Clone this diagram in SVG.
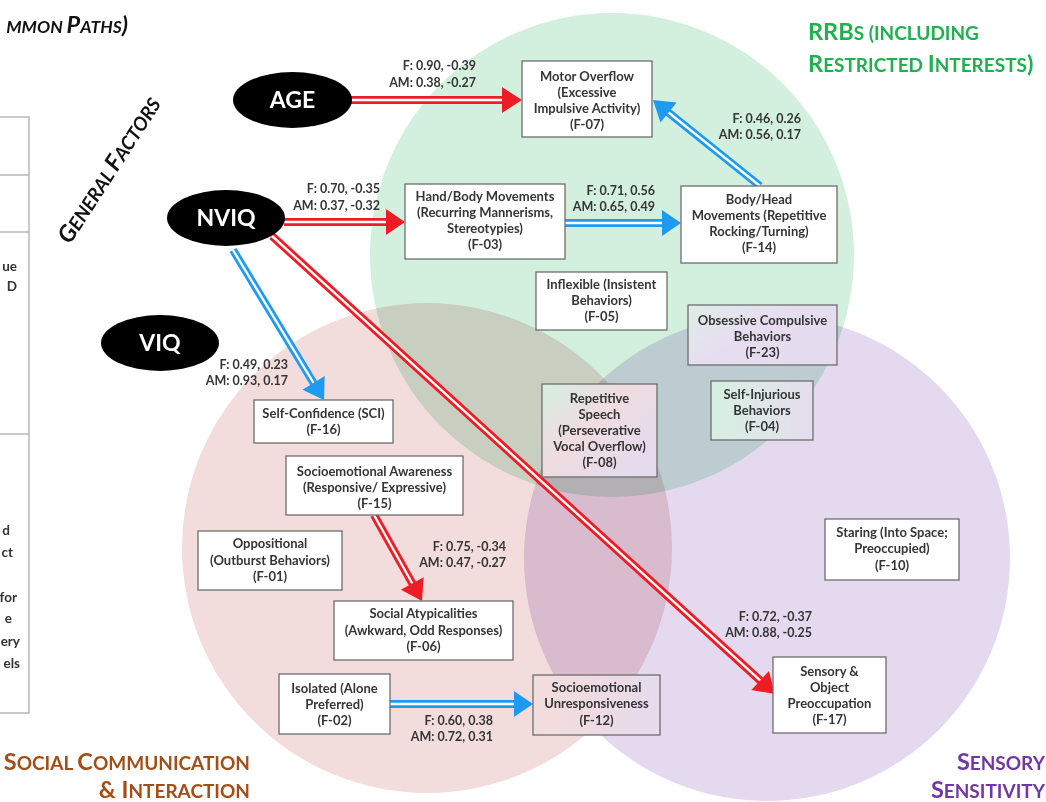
<svg xmlns="http://www.w3.org/2000/svg" width="1046" height="802" viewBox="0 0 1046 802">
<style>
.bg{fill:#ffffff}
.venn{mix-blend-mode:multiply}
.box{stroke:#6e6e6e;stroke-width:1.3}
.bt{font-family:Lato,"Liberation Sans",sans-serif;font-weight:bold;font-size:13px;fill:#353535;text-anchor:middle}
.lab{font-family:Lato,"Liberation Sans",sans-serif;font-weight:bold;font-size:12.5px;fill:#353535;text-anchor:end}
.ell{fill:#000000}
.et{font-family:Lato,"Liberation Sans",sans-serif;font-weight:bold;font-size:23px;fill:#ffffff;text-anchor:middle}
.red{stroke:#ee1c24;stroke-width:8;fill:none}
.blue{stroke:#1e9bf0;stroke-width:8;fill:none}
.gap{stroke:#ffffff;stroke-width:2.4;fill:none}
.rh{fill:#ee1c24}
.bh{fill:#1e9bf0}
.head{font-family:Lato,"Liberation Sans",sans-serif;font-weight:bold;font-size:23.5px}
.sc{font-size:19px}
.tbl{stroke:#b8b8b8;stroke-width:1.5;fill:none}
.tt{font-family:Lato,"Liberation Sans",sans-serif;font-weight:bold;font-size:13.5px;fill:#333333;text-anchor:end}
</style>
<defs>
<linearGradient id="gOC" x1="0" y1="0" x2="1" y2="0.6">
<stop offset="0" stop-color="#dfede6"/><stop offset="0.5" stop-color="#e6def0"/><stop offset="1" stop-color="#e4dbee"/>
</linearGradient>
<linearGradient id="gSI" x1="0" y1="0" x2="1" y2="0">
<stop offset="0" stop-color="#d8efe2"/><stop offset="0.6" stop-color="#dfe6e8"/><stop offset="1" stop-color="#e5dcee"/>
</linearGradient>
<linearGradient id="gRS" x1="0" y1="0" x2="1" y2="0.8">
<stop offset="0" stop-color="#d6efe1"/><stop offset="0.45" stop-color="#efdcde"/><stop offset="1" stop-color="#e4dbef"/>
</linearGradient>
<linearGradient id="gSU" x1="0" y1="0" x2="1" y2="0">
<stop offset="0" stop-color="#f3dddd"/><stop offset="0.5" stop-color="#eedbe2"/><stop offset="1" stop-color="#e5dbee"/>
</linearGradient>
</defs>
<rect class="bg" x="0" y="0" width="1046" height="802"/>

<g id="venn">
<circle class="venn" cx="612" cy="255" r="242" fill="#d3f0df"/>
<circle class="venn" cx="427" cy="548" r="245" fill="#f2dcdc"/>
<circle class="venn" cx="767" cy="558" r="243" fill="#e4d9ee"/>
</g>

<g id="titles">
<text class="head" x="128" y="33" text-anchor="end" font-style="italic" fill="#111111" font-size="22px"><tspan font-size="17.5px">MMON </tspan>P<tspan font-size="17.5px">ATHS</tspan>)</text>
<text class="head" transform="translate(70,245) rotate(-57)" font-style="italic" fill="#111111">G<tspan class="sc">ENERAL </tspan>F<tspan class="sc">ACTORS</tspan></text>
<text class="head" x="808" y="40" fill="#1fb04f">RRB<tspan class="sc">S (INCLUDING</tspan></text>
<text class="head" x="808" y="72" fill="#1fb04f">R<tspan class="sc">ESTRICTED </tspan>I<tspan class="sc">NTERESTS</tspan>)</text>
<text class="head" x="250" y="770" text-anchor="end" fill="#a34e17">S<tspan class="sc">OCIAL </tspan>C<tspan class="sc">OMMUNICATION</tspan></text>
<text class="head" x="250" y="798" text-anchor="end" fill="#a34e17">&amp; I<tspan class="sc">NTERACTION</tspan></text>
<text class="head" x="1045" y="770" text-anchor="end" fill="#7236a6">S<tspan class="sc">ENSORY</tspan></text>
<text class="head" x="1045" y="798" text-anchor="end" fill="#7236a6">S<tspan class="sc">ENSITIVITY</tspan></text>
</g>

<g id="table">
<path class="tbl" d="M0 117 H29 V713 H0 M0 175 H29 M0 232 H29 M0 434 H29"/>
<text class="tt" x="17" y="271">ue</text>
<text class="tt" x="17" y="291">D</text>
<text class="tt" x="10" y="535">d</text>
<text class="tt" x="13" y="557">ct</text>
<text class="tt" x="17" y="602">for</text>
<text class="tt" x="12" y="623">e</text>
<text class="tt" x="20" y="646">ery</text>
<text class="tt" x="20" y="668">els</text>
</g>

<g id="connectors">
<path class="red" d="M350 100 L504 100"/><path class="gap" d="M350 100 L504 100"/>
<polygon class="rh" points="502,87 522,100 502,113"/>
<text class="lab" x="476" y="70">F: 0.90, -0.39</text>
<text class="lab" x="476" y="87">AM: 0.38, -0.27</text>

<path class="red" d="M284 222 L388 222"/><path class="gap" d="M284 222 L388 222"/>
<polygon class="rh" points="386,209 405,222 386,235"/>
<text class="lab" x="380" y="193">F: 0.70, -0.35</text>
<text class="lab" x="380" y="210">AM: 0.37, -0.32</text>

<path class="blue" d="M565 223 L664 223"/><path class="gap" d="M565 223 L664 223"/>
<polygon class="bh" points="662,210 681,223 662,236"/>
<text class="lab" x="655" y="195">F: 0.71, 0.56</text>
<text class="lab" x="655" y="211">AM: 0.65, 0.49</text>

<path class="blue" d="M760 186 L667 111.3"/><path class="gap" d="M760 186 L667 111.3"/>
<polygon class="bh" points="676.7,102.4 653,100 660.5,122.6"/>
<text class="lab" x="801" y="123">F: 0.46, 0.26</text>
<text class="lab" x="801" y="139">AM: 0.56, 0.17</text>

<path class="blue" d="M233 250 L314.5 384.5"/><path class="gap" d="M233 250 L314.5 384.5"/>
<polygon class="bh" points="324.7,376.1 324,400 302.5,389.7"/>
<text class="lab" x="288" y="369">F: 0.49, 0.23</text>
<text class="lab" x="288" y="385">AM: 0.93, 0.17</text>

<path class="red" d="M272 236 L761.5 681.7"/><path class="gap" d="M272 236 L761.5 681.7"/>
<polygon class="rh" points="768.9,670.9 775,694 751.4,690.1"/>
<text class="lab" x="812" y="621">F: 0.72, -0.37</text>
<text class="lab" x="812" y="637">AM: 0.88, -0.25</text>

<path class="red" d="M374 515 L413.2 585"/><path class="gap" d="M374 515 L413.2 585"/>
<polygon class="rh" points="423.6,577.2 422,601 400.9,589.8"/>
<text class="lab" x="506" y="551">F: 0.75, -0.34</text>
<text class="lab" x="506" y="567">AM: 0.47, -0.27</text>

<path class="blue" d="M390 704 L516 704"/><path class="gap" d="M390 704 L516 704"/>
<polygon class="bh" points="514,691 533,704 514,717"/>
<text class="lab" x="493" y="725">F: 0.60, 0.38</text>
<text class="lab" x="493" y="741">AM: 0.72, 0.31</text>
</g>

<g id="node-age"><ellipse class="ell" cx="292.5" cy="100" rx="59.5" ry="28"/><text class="et" x="292.5" y="108">AGE</text></g>
<g id="node-nviq"><ellipse class="ell" cx="226" cy="218" rx="59" ry="28"/><text class="et" x="226" y="226">NVIQ</text></g>
<g id="node-viq"><ellipse class="ell" cx="160" cy="343" rx="59" ry="28"/><text class="et" x="160" y="351">VIQ</text></g>

<g id="node-f07"><rect class="box" x="522" y="61" width="130" height="76" fill="#ffffff"/>
<text class="bt" x="587" y="80.5">Motor Overflow</text><text class="bt" x="587" y="96.5">(Excessive</text><text class="bt" x="587" y="112.5">Impulsive Activity)</text><text class="bt" x="587" y="128.5">(F-07)</text></g>

<g id="node-f03"><rect class="box" x="405" y="184" width="160" height="75" fill="#ffffff"/>
<text class="bt" x="485" y="201">Hand/Body Movements</text><text class="bt" x="485" y="217">(Recurring Mannerisms,</text><text class="bt" x="485" y="233">Stereotypies)</text><text class="bt" x="485" y="249">(F-03)</text></g>

<g id="node-f14"><rect class="box" x="681" y="186" width="156" height="77" fill="#ffffff"/>
<text class="bt" x="759" y="204">Body/Head</text><text class="bt" x="759" y="220">Movements (Repetitive</text><text class="bt" x="759" y="236">Rocking/Turning)</text><text class="bt" x="759" y="252">(F-14)</text></g>

<g id="node-f05"><rect class="box" x="536" y="272" width="131" height="58" fill="#ffffff"/>
<text class="bt" x="601.5" y="289">Inflexible (Insistent</text><text class="bt" x="601.5" y="305">Behaviors)</text><text class="bt" x="601.5" y="321">(F-05)</text></g>

<g id="node-f23"><rect class="box" x="688" y="305" width="149" height="60" fill="url(#gOC)"/>
<text class="bt" x="762.5" y="325">Obsessive Compulsive</text><text class="bt" x="762.5" y="341">Behaviors</text><text class="bt" x="762.5" y="357">(F-23)</text></g>

<g id="node-f04"><rect class="box" x="711" y="381" width="102" height="59" fill="url(#gSI)"/>
<text class="bt" x="762" y="399">Self-Injurious</text><text class="bt" x="762" y="415">Behaviors</text><text class="bt" x="762" y="431">(F-04)</text></g>

<g id="node-f08"><rect class="box" x="542" y="384" width="115" height="93" fill="url(#gRS)"/>
<text class="bt" x="599.5" y="403">Repetitive</text><text class="bt" x="599.5" y="419">Speech</text><text class="bt" x="599.5" y="435">(Perseverative</text><text class="bt" x="599.5" y="451">Vocal Overflow)</text><text class="bt" x="599.5" y="467">(F-08)</text></g>

<g id="node-f16"><rect class="box" x="254" y="400" width="139" height="43" fill="#ffffff"/>
<text class="bt" x="323.5" y="418">Self-Confidence (SCI)</text><text class="bt" x="323.5" y="434">(F-16)</text></g>

<g id="node-f15"><rect class="box" x="286" y="456" width="177" height="59" fill="#ffffff"/>
<text class="bt" x="374.5" y="476">Socioemotional Awareness</text><text class="bt" x="374.5" y="492">(Responsive/ Expressive)</text><text class="bt" x="374.5" y="508">(F-15)</text></g>

<g id="node-f01"><rect class="box" x="198" y="531" width="144" height="59" fill="#ffffff"/>
<text class="bt" x="270" y="548">Oppositional</text><text class="bt" x="270" y="565">(Outburst Behaviors)</text><text class="bt" x="270" y="581">(F-01)</text></g>

<g id="node-f06"><rect class="box" x="334" y="601" width="179" height="59" fill="#ffffff"/>
<text class="bt" x="423.5" y="618">Social Atypicalities</text><text class="bt" x="423.5" y="635">(Awkward, Odd Responses)</text><text class="bt" x="423.5" y="651">(F-06)</text></g>

<g id="node-f02"><rect class="box" x="279" y="674" width="111" height="60" fill="#ffffff"/>
<text class="bt" x="334.5" y="693">Isolated (Alone</text><text class="bt" x="334.5" y="709">Preferred)</text><text class="bt" x="334.5" y="725">(F-02)</text></g>

<g id="node-f12"><rect class="box" x="533" y="675" width="127" height="60" fill="url(#gSU)"/>
<text class="bt" x="596.5" y="692">Socioemotional</text><text class="bt" x="596.5" y="708">Unresponsiveness</text><text class="bt" x="596.5" y="725">(F-12)</text></g>

<g id="node-f10"><rect class="box" x="825" y="519" width="134" height="61" fill="#ffffff"/>
<text class="bt" x="892" y="537">Staring (Into Space;</text><text class="bt" x="892" y="553">Preoccupied)</text><text class="bt" x="892" y="570">(F-10)</text></g>

<g id="node-f17"><rect class="box" x="773" y="657" width="113" height="76" fill="#ffffff"/>
<text class="bt" x="829.5" y="676">Sensory &amp;</text><text class="bt" x="829.5" y="692">Object</text><text class="bt" x="829.5" y="708">Preoccupation</text><text class="bt" x="829.5" y="724">(F-17)</text></g>
</svg>
